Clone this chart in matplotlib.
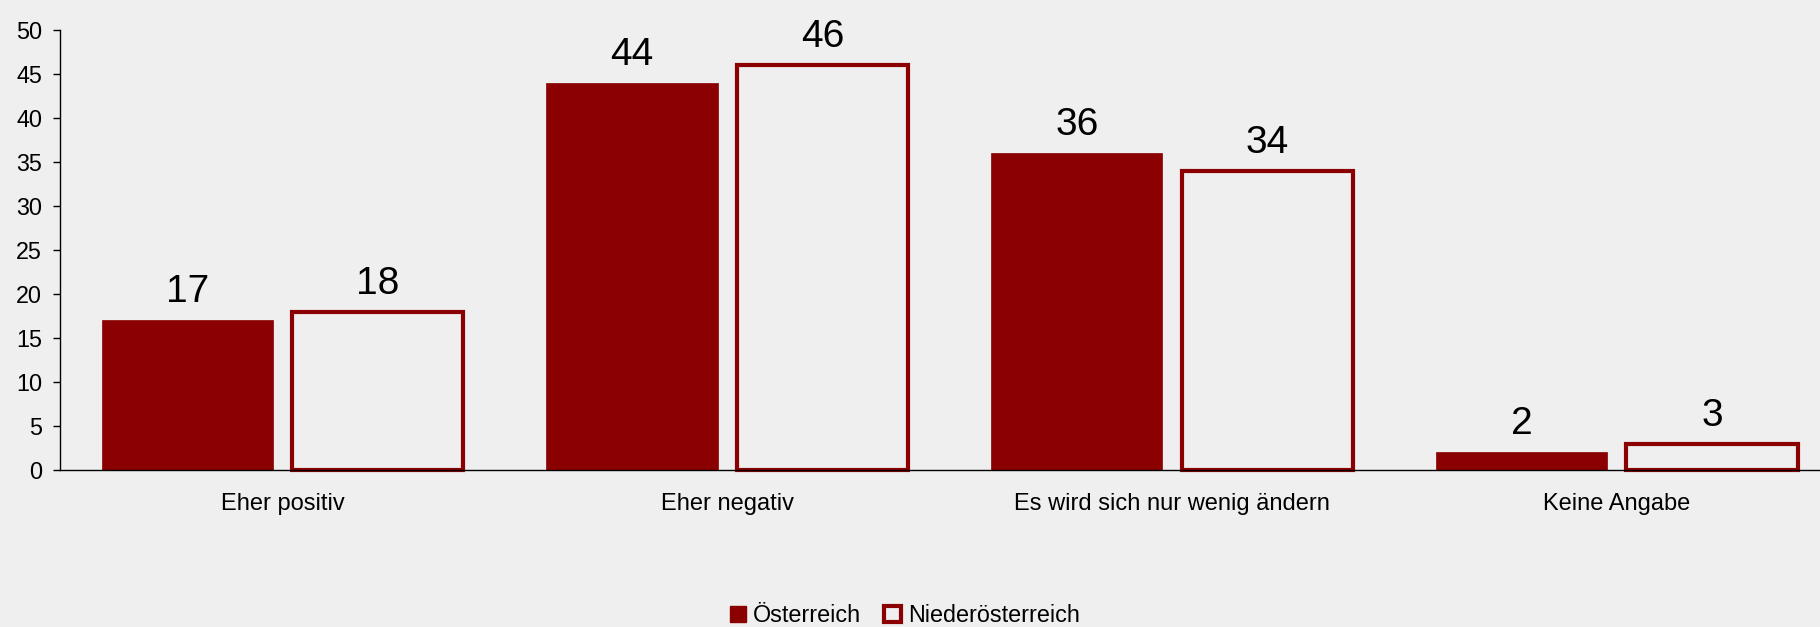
import numpy as np
import matplotlib.pyplot as plt
from matplotlib.patches import Patch

categories = ['Eher positiv', 'Eher negativ', 'Es wird sich nur wenig ändern', 'Keine Angabe']
oesterreich = [17, 44, 36, 2]
niederoesterreich = [18, 46, 34, 3]
series_names = ['Österreich', 'Niederösterreich']

red = '#8B0000'
bg = '#EFEFEF'

plt.rcParams['font.family'] = ['Liberation Sans', 'DejaVu Sans']

fig = plt.figure(figsize=(18.2, 6.27), dpi=100, facecolor=bg)
ax = fig.add_axes([0.033, 0.2504, 0.9775, 0.7018], facecolor=bg)

x = np.arange(len(categories))
w = 0.385
off = 0.214

b1 = ax.bar(x - off, oesterreich, w, color=red, edgecolor=red, linewidth=0.5)
b2 = ax.bar(x + off, niederoesterreich, w, facecolor='none', edgecolor=red,
            linewidth=3, clip_on=False)

# value labels above the bars
for bars, vals in [(b1, oesterreich), (b2, niederoesterreich)]:
    for b, v in zip(bars, vals):
        ax.annotate(str(v), (b.get_x() + b.get_width() / 2, v),
                    xytext=(0, 13), textcoords='offset points',
                    ha='center', va='baseline', fontsize=28)

ax.set_xlim(-0.5, 3.5)
ax.set_ylim(0, 50)
ax.set_yticks(range(0, 51, 5))
ax.set_xticks(x)
ax.set_xticklabels(categories, fontsize=17)
ax.tick_params(axis='x', length=0, pad=16.5)
ax.tick_params(axis='y', labelsize=16.8, length=5, width=1, pad=8)

for s in ['top', 'right']:
    ax.spines[s].set_visible(False)
ax.spines['left'].set_linewidth(1)
ax.spines['bottom'].set_linewidth(1)

handles = [Patch(facecolor=red, edgecolor=red),
           Patch(facecolor='none', edgecolor=red, linewidth=3)]
fig.legend(handles, series_names, loc='lower center', bbox_to_anchor=(0.497, -0.034),
           ncol=2, frameon=False, fontsize=16.8, handlelength=0.7, handleheight=0.7,
           handletextpad=0.3, columnspacing=1.0)

plt.savefig('out.png', dpi=100, facecolor=bg)
